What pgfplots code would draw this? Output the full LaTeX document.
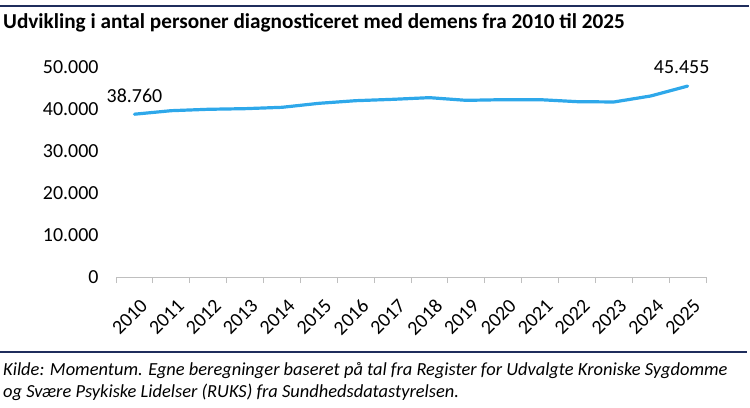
\documentclass[border=0pt]{standalone}
\usepackage{pgfplots}
\pgfplotsset{compat=1.18}
\usepackage{fontspec}
\setmainfont{Carlito}
\definecolor{lineblue}{HTML}{2EA8EA}
\definecolor{navy}{HTML}{1F2D5C}
\definecolor{axgray}{HTML}{BFBFBF}
\begin{document}
\begin{tikzpicture}[x=1bp,y=1bp]
\useasboundingbox (0,0) rectangle (750,407);
\draw[navy, line width=2bp] (0,401) -- (749,401);
\node[anchor=base west, inner sep=0pt, font=\fontsize{21.3}{24}\selectfont\bfseries] at (3,379) {Udvikling i antal personer diagnosticeret med demens fra 2010 til 2025};
\begin{axis}[
  at={(116bp,130bp)}, anchor=south west,
  scale only axis, width=590bp, height=210bp,
  xmin=-0.5, xmax=15.5, ymin=0, ymax=50000,
  axis x line=bottom, axis y line=left,
  x axis line style={draw=axgray, line width=0.8bp, -},
  y axis line style={draw=none},
  xtick={0,...,15},
  xticklabels={2010,2011,2012,2013,2014,2015,2016,2017,2018,2019,2020,2021,2022,2023,2024,2025},
  minor xtick={-0.5,0.5,...,15.5},
  major tick length=0pt,
  minor tick length=6bp,
  tick align=outside,
  minor x tick style={draw=axgray, line width=0.8bp},
  ytick={0,10000,20000,30000,40000,50000},
  ytick style={draw=none},
  scaled y ticks=false,
  /pgf/number format/.cd, 1000 sep={.}, assume math mode=true,
  /pgfplots/.cd,
  xticklabel style={rotate=45, anchor=east, font=\fontsize{20}{22}\selectfont, xshift=-8bp, yshift=-25bp},
  yticklabel style={font=\fontsize{20}{22}\selectfont, xshift=-14bp},
  clip=false,
]
\addplot[lineblue, line width=3.2bp, line cap=round, line join=round] coordinates {
(0,38760) (1,39600) (2,39930) (3,40080) (4,40400) (5,41350) (6,41980) (7,42300)
(8,42700) (9,42060) (10,42220) (11,42220) (12,41750) (13,41670) (14,43100) (15,45455)
};
\node[font=\fontsize{20}{22}\selectfont, anchor=base, inner sep=0pt] at (axis cs:0,38760) [yshift=12bp] {38.760};
\node[font=\fontsize{20}{22}\selectfont, anchor=base, inner sep=0pt] at (axis cs:14.84,45455) [yshift=13bp] {45.455};
\end{axis}
\draw[navy, line width=2bp] (0,55) -- (747,55);
\node[anchor=base west, inner sep=0pt, font=\fontsize{18.5}{22}\selectfont\itshape] at (3,32) {Kilde: Momentum. Egne beregninger baseret på tal fra Register for Udvalgte Kroniske Sygdomme};
\node[anchor=base west, inner sep=0pt, font=\fontsize{18.5}{22}\selectfont\itshape] at (3,10) {og Svære Psykiske Lidelser (RUKS) fra Sundhedsdatastyrelsen.};
\end{tikzpicture}
\end{document}
